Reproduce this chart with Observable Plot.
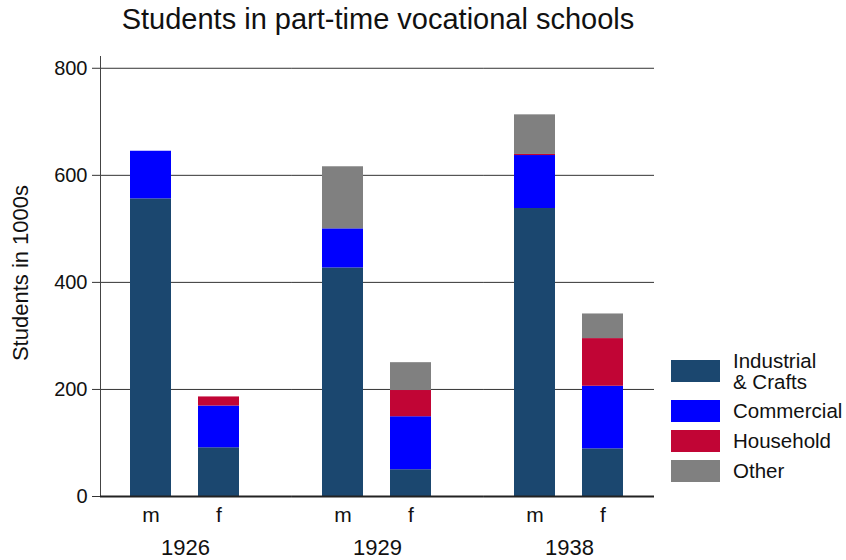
<!DOCTYPE html>
<html>
<head>
<meta charset="utf-8">
<script src="https://cdn.jsdelivr.net/npm/d3@7"></script>
<script src="https://cdn.jsdelivr.net/npm/@observablehq/plot@0.6"></script>
<style>
  html, body { margin: 0; padding: 0; background: #fff; }
  body { width: 846px; height: 560px; position: relative; overflow: hidden; font-family: "Liberation Sans", Arial, sans-serif; color: #111; }
  #title { position: absolute; top: 5px; left: 0; width: 756px; text-align: center; font-size: 29px; line-height: 29px; }
  #chart { position: absolute; top: 46px; left: 0; }
  #legend { position: absolute; left: 671px; top: 349.5px; display: flex; flex-direction: column; gap: 8px; font-size: 20.5px; line-height: 21px; }
  .item { display: flex; align-items: center; min-height: 22px; }
  .sw { width: 49px; height: 22px; flex: none; margin-right: 13px; }
</style>
</head>
<body>
<div id="title">Students in part-time vocational schools</div>
<div id="chart"></div>
<div id="legend"></div>
<script>
const years = ["1926", "1929", "1938"];
const sexes = ["m", "f"];
const categories = ["Industrial & Crafts", "Commercial", "Household", "Other"];
const legendLabels = ["Industrial<br>& Crafts", "Commercial", "Household", "Other"];
const colors = ["#1b476f", "#0000ff", "#c10535", "#808080"];
// order: 1926 m, 1926 f, 1929 m, 1929 f, 1938 m, 1938 f  (thousands)
const industrial = [556, 91, 427, 50, 538, 89];
const commercial = [89, 78, 73, 99, 99, 117];
const household  = [0, 17, 0, 49, 2, 89];
const other      = [0, 0, 116, 52, 74, 46];
const yTicks = [0, 200, 400, 600, 800];
const gridTicks = [200, 400, 600, 800];
const yLabel = "Students in 1000s";

const series = [industrial, commercial, household, other];
const rows = [];
years.forEach((yr, gi) => {
  sexes.forEach((sx, si) => {
    const i = gi * 2 + si;
    categories.forEach((c, ci) => {
      rows.push({year: yr, sex: sx, category: c, value: series[ci][i]});
    });
  });
});

// layout
const W = 846, H = 514, mL = 100, mR = 191, mT = 10, mB = 64;
const fxPadInner = 0.114, fxPadOuter = 0;
const fxStep = (W - mL - mR) / (years.length - fxPadInner + 2 * fxPadOuter);
const facetGap = fxStep * fxPadInner; // pixel gap between facets, bridged by grid lines

const inner = years.slice(0, -1), last = years.slice(-1);
const cross = (ys, ts) => ys.flatMap(fx => ts.map(t => ({fx, t})));

const chart = Plot.plot({
  width: W,
  height: H,
  marginLeft: mL,
  marginRight: mR,
  marginTop: mT,
  marginBottom: mB,
  style: {fontFamily: "'Liberation Sans', Arial, sans-serif", color: "#111", background: "transparent"},
  fx: {domain: years, paddingInner: fxPadInner, paddingOuter: fxPadOuter, label: null},
  x: {domain: sexes, paddingInner: 0.391, paddingOuter: 0.43, label: null},
  y: {domain: [0, 822], label: null},
  color: {domain: categories, range: colors},
  marks: [
    Plot.ruleY(cross(inner, gridTicks), {fx: "fx", y: "t", stroke: "#333", strokeWidth: 1, insetRight: -facetGap}),
    Plot.ruleY(cross(last, gridTicks), {fx: "fx", y: "t", stroke: "#333", strokeWidth: 1}),
    Plot.barY(rows, {fx: "year", x: "sex", y: "value", fill: "category"}),
    Plot.frame({anchor: "left", facetAnchor: "left", stroke: "#444"}),
    Plot.ruleY(cross(inner, [0]), {fx: "fx", y: "t", stroke: "#222", strokeWidth: 2, insetRight: -facetGap}),
    Plot.ruleY(cross(last, [0]), {fx: "fx", y: "t", stroke: "#222", strokeWidth: 2}),
    Plot.axisY({ticks: yTicks, tickSize: 8, tickPadding: 5, fontSize: 20, label: null, stroke: "#333"}),
    Plot.axisX({tickSize: 0, tickPadding: 10.5, fontSize: 21, label: null}),
    Plot.axisFx({anchor: "bottom", tickSize: 0, tickPadding: 43, fontSize: 22, label: null}),
    Plot.text([yLabel], {frameAnchor: "left", textAnchor: "middle", dx: -80, dy: -3.5, rotate: -90, fontSize: 22, facet: "super", fill: "#111"})
  ]
});
document.getElementById("chart").appendChild(chart);

const legend = document.getElementById("legend");
categories.forEach((c, i) => {
  const item = document.createElement("div");
  item.className = "item";
  item.innerHTML = `<div class="sw" style="background:${colors[i]}"></div><div>${legendLabels[i]}</div>`;
  legend.appendChild(item);
});
</script>
</body>
</html>
